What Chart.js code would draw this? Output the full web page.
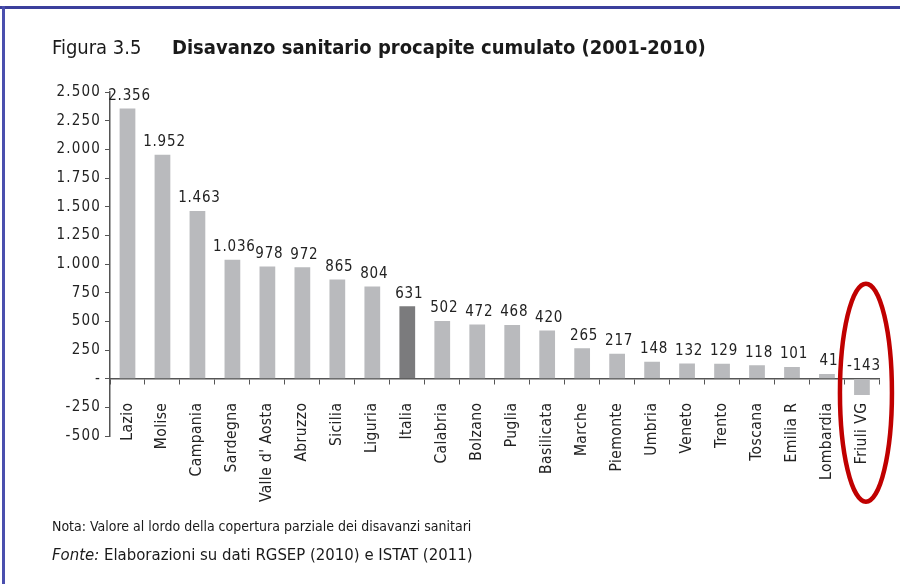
<!DOCTYPE html>
<html>
<head>
<meta charset="utf-8">
<script src="https://cdn.jsdelivr.net/npm/chart.js@4/dist/chart.umd.min.js"></script>
<style>
  html,body{margin:0;padding:0;background:#fff;}
  #wrap{position:relative;width:900px;height:584px;overflow:hidden;background:#fff;}
  #c{position:absolute;left:0;top:0;}
  .frame-top{position:absolute;left:0;top:6px;width:900px;height:3px;background:#3b3f9c;}
  .frame-left{position:absolute;left:2px;top:6px;width:3px;height:578px;background:#4a4fae;}
  .txt{position:absolute;font-family:"Liberation Sans Narrow","DejaVu Sans Condensed","Liberation Sans",sans-serif;color:#1a1a1a;white-space:nowrap;}
  #fig{left:52px;top:35px;font-size:20px;}
  #title{left:172px;top:35px;font-size:20px;font-weight:bold;}
  #nota{left:52px;top:518px;font-size:14px;}
  #fonte{left:52px;top:545px;font-size:16.6px;}
</style>
</head>
<body>
<div id="wrap">
  <canvas id="c" width="900" height="584"></canvas>
  <div class="frame-top"></div>
  <div class="frame-left"></div>
  <div class="txt" id="fig">Figura 3.5</div>
  <div class="txt" id="title">Disavanzo sanitario procapite cumulato (2001-2010)</div>
  <div class="txt" id="nota">Nota: Valore al lordo della copertura parziale dei disavanzi sanitari</div>
  <div class="txt" id="fonte"><i>Fonte:</i> Elaborazioni su dati RGSEP (2010) e ISTAT (2011)</div>
</div>
<script>
const categories = ["Lazio","Molise","Campania","Sardegna","Valle d' Aosta","Abruzzo","Sicilia","Liguria","Italia","Calabria","Bolzano","Puglia","Basilicata","Marche","Piemonte","Umbria","Veneto","Trento","Toscana","Emilia R","Lombardia","Friuli VG"];
const values = [2356,1952,1463,1036,978,972,865,804,631,502,472,468,420,265,217,148,132,129,118,101,41,-143];
const highlightCategory = "Italia";
const circledCategory = "Friuli VG";
const yMin = -500, yMax = 2500, yStep = 250;

const FONT = '"Liberation Sans Narrow","DejaVu Sans Condensed","Liberation Sans",sans-serif';
const SPACING_Y = "1.2px";
const SPACING_X = "0.4px";

function fmtIt(v){
  const neg = v < 0;
  let s = String(Math.abs(Math.round(v)));
  s = s.replace(/\B(?=(\d{3})+(?!\d))/g, ".");
  return (neg ? "-" : "") + s;
}

const barColors = categories.map(c => c === highlightCategory ? "#7b7b7d" : "#b9babd");

const spacing = {
  id: "spacing",
  beforeLayout(chart){ chart.ctx.letterSpacing = SPACING_Y; },
  beforeDraw(chart){
    chart.ctx.letterSpacing = SPACING_Y;
    const s = chart.scales.x;
    if (s && !s._lsPatched) {
      const orig = s.drawLabels.bind(s);
      s.drawLabels = function(ca){
        chart.ctx.save();
        chart.ctx.letterSpacing = SPACING_X;
        orig(ca);
        chart.ctx.restore();
      };
      s._lsPatched = true;
    }
  }
};

const valueLabels = {
  id: "valueLabels",
  afterDatasetsDraw(chart){
    const ctx = chart.ctx;
    const meta = chart.getDatasetMeta(0);
    const ys = chart.scales.y;
    ctx.save();
    ctx.letterSpacing = "0.8px";
    ctx.font = "15px " + FONT;
    ctx.fillStyle = "#222";
    ctx.textAlign = "center";
    ctx.textBaseline = "bottom";
    meta.data.forEach((bar, i) => {
      const v = values[i];
      const top = ys.getPixelForValue(Math.max(v, 0));
      ctx.fillText(fmtIt(v), bar.x + 2, top - 5);
    });
    ctx.restore();
  }
};

const ellipse = {
  id: "ellipse",
  afterDraw(chart){
    const ctx = chart.ctx;
    const i = categories.indexOf(circledCategory);
    const cx = chart.scales.x.getPixelForValue(i) + 4;
    const cy = chart.scales.y.getPixelForValue(0) + 14;
    ctx.save();
    ctx.strokeStyle = "#c00000";
    ctx.lineWidth = 4.5;
    ctx.beginPath();
    ctx.ellipse(cx, cy, 26, 109, 0, 0, Math.PI * 2);
    ctx.stroke();
    ctx.restore();
  }
};

new Chart(document.getElementById("c"), {
  type: "bar",
  data: {
    labels: categories,
    datasets: [{
      data: values,
      backgroundColor: barColors,
      borderWidth: 0,
      barPercentage: 0.45,
      categoryPercentage: 1.0
    }]
  },
  options: {
    responsive: false,
    animation: false,
    events: [],
    layout: { padding: { left: 0, top: 92, right: 20, bottom: 148 } },
    plugins: { legend: { display: false }, tooltip: { enabled: false }, title: { display: false } },
    scales: {
      x: {
        position: { y: 0 },
        grid: { display: true, drawOnChartArea: false, drawTicks: true, tickLength: 5, color: "#555", offset: true },
        border: { display: true, color: "#555", width: 1.5 },
        ticks: {
          autoSkip: false, maxRotation: 90, minRotation: 90, padding: 19,
          color: "#222", font: { family: FONT, size: 15.5 }
        }
      },
      y: {
        min: yMin, max: yMax,
        afterFit(scale){ scale.width = 110; },
        grid: { display: true, drawOnChartArea: false, drawTicks: true, tickLength: 5, color: "#555" },
        border: { display: true, color: "#555", width: 1.5 },
        ticks: {
          stepSize: yStep, padding: 4, color: "#222",
          font: { family: FONT, size: 15 },
          callback: (v) => v === 0 ? "-" : fmtIt(v)
        }
      }
    }
  },
  plugins: [spacing, valueLabels, ellipse]
});
</script>
</body>
</html>
